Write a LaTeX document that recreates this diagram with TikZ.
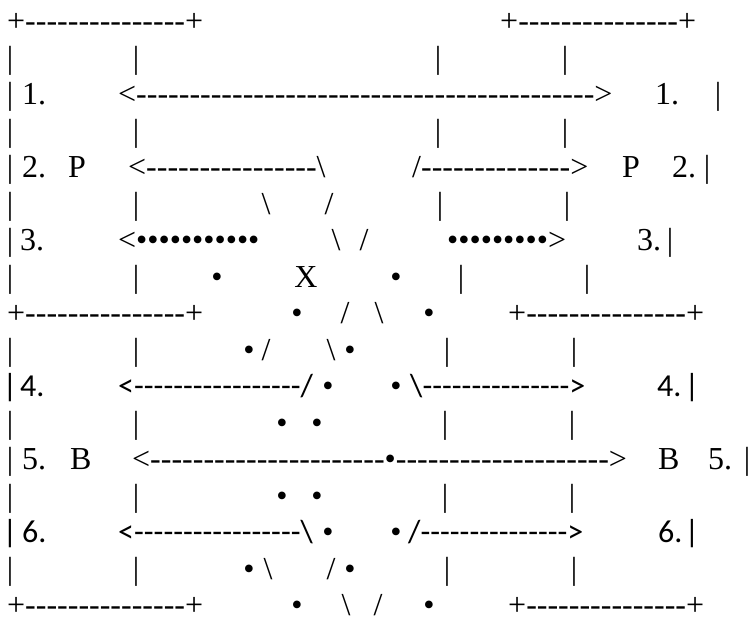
\documentclass[tikz,border=0pt]{standalone}
\usepackage{fontspec}
\setmainfont{Liberation Serif}[Ligatures=TeXOff]
\newfontfamily\cb{Carlito}
\newcommand\rep[2]{\foreach\k in {1,...,#1}{#2}}
\newcommand\bs{\textbackslash}

\begin{document}
\begin{tikzpicture}[x=1pt,y=-1pt,
  every node/.style={inner sep=0pt,font=\fontsize{32}{38}\selectfont},%
  w/.style={anchor=base west},%
  c/.style={anchor=base},%
  k/.style={font=\fontsize{32}{38}\selectfont\cb},%
  ]
  \useasboundingbox (0,0) rectangle (750,619);

  % row 1
  \node (r1a) [w] at (7,31.5) {+\rep{15}{-}+};
  \node (r1b) [w] at (500,31.5) {+\rep{15}{-}+};
  % row 2
  \node (r2a) [c] at (10,68) {|};
  \node (r2b) [c] at (136,68) {|};
  \node (r2c) [c] at (438,68) {|};
  \node (r2d) [c] at (565,68) {|};
  % row 3
  \node (r3a) [c] at (10,104.5) {|};
  \node (r3b) [w] at (22,104.5) {1.};
  \node (r3c) [w] at (118,104.5) {<\rep{43}{-}>};
  \node (r3d) [w] at (655,104.5) {1.};
  \node (r3e) [c] at (718,104.5) {|};
  % row 4
  \node (r4a) [c] at (10,141) {|};
  \node (r4b) [c] at (136,141) {|};
  \node (r4c) [c] at (438,141) {|};
  \node (r4d) [c] at (565,141) {|};
  % row 5
  \node (r5a) [c] at (10,177.5) {|};
  \node (r5b) [w] at (22,177.5) {2.};
  \node (r5c) [w] at (68,177.5) {P};
  \node (r5d) [w] at (128,177.5) {<\rep{16}{-}\bs};
  \node (r5e) [w] at (412,177.5) {/\rep{14}{-}>};
  \node (r5f) [w] at (622,177.5) {P};
  \node (r5g) [w] at (672,177.5) {2.};
  \node (r5h) [c] at (707,177.5) {|};
  % row 6
  \node (r6a) [c] at (10,214) {|};
  \node (r6b) [c] at (136,214) {|};
  \node (r6c) [c] at (266,214) {\bs};
  \node (r6d) [c] at (329,214) {/};
  \node (r6e) [c] at (440,214) {|};
  \node (r6f) [c] at (567,214) {|};
  % row 7
  \node (r7a) [c] at (10,250.5) {|};
  \node (r7b) [w] at (20,250.5) {3.};
  \node (r7c) [w] at (118,250.5) {<\rep{11}{•}};
  \node (r7d) [c] at (336,250.5) {\bs};
  \node (r7e) [c] at (364,250.5) {/};
  \node (r7f) [w] at (447,250.5) {\rep{9}{•}>};
  \node (r7g) [w] at (637,250.5) {3.};
  \node (r7h) [c] at (670,250.5) {|};
  % row 8
  \node (r8a) [c] at (10,287) {|};
  \node (r8b) [c] at (136,287) {|};
  \node (r8c) [c] at (217,287) {•};
  \node (r8d) [c] at (306,287) {X};
  \node (r8e) [c] at (396,287) {•};
  \node (r8f) [c] at (461,287) {|};
  \node (r8g) [c] at (587,287) {|};
  % row 9
  \node (r9a) [w] at (7,323.5) {+\rep{15}{-}+};
  \node (r9b) [c] at (297,323.5) {•};
  \node (r9c) [c] at (345,323.5) {/};
  \node (r9d) [c] at (379,323.5) {\bs};
  \node (r9e) [c] at (429,323.5) {•};
  \node (r9f) [w] at (508,323.5) {+\rep{15}{-}+};
  % row 10
  \node (r10a) [c] at (10,360) {|};
  \node (r10b) [c] at (136,360) {|};
  \node (r10c) [c] at (249,360) {•};
  \node (r10d) [c] at (266,360) {/};
  \node (r10e) [c] at (331,360) {\bs};
  \node (r10f) [c] at (350,360) {•};
  \node (r10g) [c] at (447,360) {|};
  \node (r10h) [c] at (574,360) {|};
  % row 11
  \node (r11a) [c,k] at (10,396.5) {|};
  \node (r11b) [w,k] at (20,396.5) {4.};
  \node (r11c) [w,k] at (118,396.5) {<\rep{17}{-}/};
  \node (r11d) [c] at (328,396.5) {•};
  \node (r11e) [c] at (396,396.5) {•};
  \node (r11f) [w,k] at (410,396.5) {\bs\rep{15}{-}>};
  \node (r11g) [w,k] at (657,396.5) {4.};
  \node (r11h) [c,k] at (692,396.5) {|};
  % row 12
  \node (r12a) [c] at (10,433) {|};
  \node (r12b) [c] at (136,433) {|};
  \node (r12c) [c] at (282,433) {•};
  \node (r12d) [c] at (317,433) {•};
  \node (r12e) [c] at (445,433) {|};
  \node (r12f) [c] at (572,433) {|};
  % row 13
  \node (r13a) [c] at (10,469.5) {|};
  \node (r13b) [w] at (22,469.5) {5.};
  \node (r13c) [w] at (70,469.5) {B};
  \node (r13d) [w] at (132,469.5) {<\rep{22}{-}•\rep{20}{-}>};
  \node (r13e) [w] at (658,469.5) {B};
  \node (r13f) [w] at (708,469.5) {5.};
  \node (r13g) [c] at (747,469.5) {|};
  % row 14
  \node (r14a) [c] at (10,506) {|};
  \node (r14b) [c] at (136,506) {|};
  \node (r14c) [c] at (282,506) {•};
  \node (r14d) [c] at (317,506) {•};
  \node (r14e) [c] at (445,506) {|};
  \node (r14f) [c] at (572,506) {|};
  % row 15
  \node (r15a) [c,k] at (10,542.5) {|};
  \node (r15b) [w,k] at (22,542.5) {6.};
  \node (r15c) [w,k] at (118,542.5) {<\rep{17}{-}\bs};
  \node (r15d) [c] at (328,542.5) {•};
  \node (r15e) [c] at (396,542.5) {•};
  \node (r15f) [w,k] at (408,542.5) {/\rep{15}{-}>};
  \node (r15g) [w,k] at (658,542.5) {6.};
  \node (r15h) [c,k] at (692,542.5) {|};
  % row 16
  \node (r16a) [c] at (10,579) {|};
  \node (r16b) [c] at (136,579) {|};
  \node (r16c) [c] at (249,579) {•};
  \node (r16d) [c] at (268,579) {\bs};
  \node (r16e) [c] at (331,579) {/};
  \node (r16f) [c] at (350,579) {•};
  \node (r16g) [c] at (447,579) {|};
  \node (r16h) [c] at (574,579) {|};
  % row 17
  \node (r17a) [w] at (7,615.5) {+\rep{15}{-}+};
  \node (r17b) [c] at (297,615.5) {•};
  \node (r17c) [c] at (346,615.5) {\bs};
  \node (r17d) [c] at (378,615.5) {/};
  \node (r17e) [c] at (429,615.5) {•};
  \node (r17f) [w] at (508,615.5) {+\rep{15}{-}+};
\end{tikzpicture}
\end{document}
